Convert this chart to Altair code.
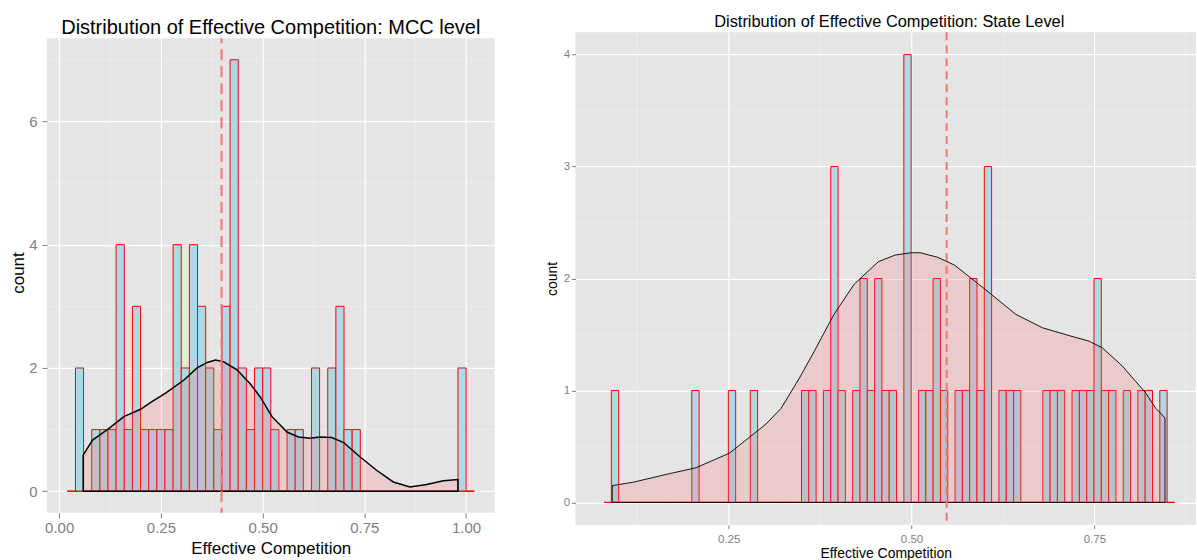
import altair as alt
import pandas as pd

# ---------------- MCC level panel ----------------
MCC_BIN_FIRST = 0.02          # left edge of first (empty) bin
MCC_BIN_WIDTH = 0.02
MCC_COUNTS = [0,
              2, 0, 1, 1, 1, 4, 1, 3, 1, 1,
              1, 1, 4, 2, 4, 3, 2, 1, 3, 7,
              2, 1, 2, 2, 1, 0, 1, 1, 0, 2,
              0, 2, 3, 1, 1,
              0, 0, 0, 0, 0, 0, 0, 0, 0, 0, 0, 0,
              2, 0]
MCC_DENS_X = [0.059, 0.082, 0.1225, 0.159, 0.20, 0.225, 0.2615, 0.306, 0.339, 0.364,
              0.384, 0.404, 0.437, 0.47, 0.494, 0.523, 0.56, 0.588, 0.617, 0.641,
              0.67, 0.699, 0.739, 0.78, 0.821, 0.862, 0.903, 0.944, 0.98]
MCC_DENS_Y = [0.585, 0.83, 1.02, 1.21, 1.33, 1.44, 1.59, 1.80, 2.0, 2.09,
              2.13, 2.10, 1.97, 1.74, 1.53, 1.21, 0.96, 0.88, 0.86, 0.88,
              0.87, 0.79, 0.56, 0.34, 0.15, 0.07, 0.11, 0.17, 0.19]
MCC_MEAN = 0.399
MCC_XTICKS = [0.0, 0.25, 0.5, 0.75, 1.0]
MCC_XMINOR = [0.125, 0.375, 0.625, 0.875]
MCC_YTICKS = [0, 2, 4, 6]
MCC_YMINOR = [1, 3, 5, 7]

# ---------------- State level panel ----------------
ST_BIN_FIRST = 0.0795
ST_BIN_WIDTH = 0.01
ST_COUNTS = [0,
             1, 0, 0, 0, 0, 0, 0, 0, 0, 0,
             0, 1, 0, 0, 0, 0, 1, 0, 0, 1,
             0, 0, 0, 0, 0, 0, 1, 1, 0, 1,
             3, 1, 0, 1, 2, 1, 2, 1, 1, 0,
             4, 0, 1, 1, 2, 1, 0, 1, 1, 2,
             1, 3, 0, 1, 1, 1, 0, 0, 0, 1,
             1, 1, 0, 1, 1, 1, 2, 1, 1, 0,
             1, 0, 1, 1, 0, 1, 0]
ST_DENS_X = [0.0907, 0.119, 0.1645, 0.2055, 0.251, 0.278, 0.301, 0.3216, 0.3466, 0.367,
             0.394, 0.4217, 0.4546, 0.4777, 0.50, 0.512, 0.5355, 0.5587, 0.582, 0.605,
             0.6426, 0.679, 0.7154, 0.743, 0.761, 0.788, 0.8066, 0.82, 0.834, 0.8466]
ST_DENS_Y = [0.15, 0.18, 0.25, 0.31, 0.44, 0.58, 0.70, 0.84, 1.11, 1.35,
             1.68, 1.95, 2.15, 2.21, 2.23, 2.23, 2.19, 2.12, 2.0, 1.88,
             1.68, 1.56, 1.49, 1.44, 1.38, 1.22, 1.08, 0.98, 0.84, 0.755]
ST_MEAN = 0.548
ST_XTICKS = [0.25, 0.5, 0.75]
ST_XMINOR = [0.125, 0.375, 0.625, 0.875]
ST_YTICKS = [0, 1, 2, 3, 4]
ST_YMINOR = [0.5, 1.5, 2.5, 3.5]

FONT = "Liberation Sans"


def panel(first, width_bin, counts, dx, dy, mean, xticks, xminor, yticks, yminor,
          xdom, ydom, panel_top, w, h, title, title_size, title_offset, title_dx,
          lab_size, axt_size, line_w, dash, tick_size,
          x_lab_pad, x_title_pad, y_lab_pad, y_title_pad):
    bins = pd.DataFrame({
        "start": [first + i * width_bin for i in range(len(counts))],
        "count": counts,
    })
    bins["end"] = bins["start"] + width_bin
    bins["base"] = 0.0
    dens = pd.DataFrame({"x": dx, "y": dy})
    dens["base"] = 0.0
    xs = alt.Scale(domain=xdom, nice=False, zero=False)
    ys = alt.Scale(domain=ydom, nice=False, zero=False)
    common = dict(grid=True, gridColor="white", gridWidth=1.2, domain=False,
                  tickColor="#7F7F7F", tickSize=tick_size, labelColor="#7F7F7F",
                  labelFontSize=lab_size, labelFont=FONT,
                  titleFont=FONT, titleFontSize=axt_size, titleFontWeight="normal",
                  titleColor="black", labelFlush=False)
    xax = alt.Axis(values=xticks, format=".2f", title="Effective Competition",
                   labelPadding=x_lab_pad, titlePadding=x_title_pad, **common)
    yax = alt.Axis(values=yticks, format="d", title="count",
                   labelPadding=y_lab_pad, titlePadding=y_title_pad, **common)

    vminor = alt.Chart(pd.DataFrame({"v": xminor})).mark_rule(
        color="#F2F2F2", strokeWidth=0.6).encode(
        x=alt.X("v:Q", scale=xs, axis=xax))
    hminor = alt.Chart(pd.DataFrame({"v": yminor})).mark_rule(
        color="#F2F2F2", strokeWidth=0.6).encode(
        y=alt.Y("v:Q", scale=ys, axis=yax))
    bars = alt.Chart(bins).mark_rect(
        fill="#ADD8E6", stroke="red", strokeWidth=1).encode(
        x=alt.X("start:Q", scale=xs, axis=xax), x2="end:Q",
        y=alt.Y("count:Q", scale=ys, axis=yax), y2="base:Q")
    baseline = alt.Chart(bins).mark_rule(color="red", strokeWidth=1).encode(
        x=alt.X("min(start):Q", scale=xs, axis=xax), x2="max(end):Q",
        y=alt.Y("min(base):Q", scale=ys, axis=yax))
    area = alt.Chart(dens).mark_area(
        fill="#FF6666", fillOpacity=0.2, stroke="black", strokeWidth=line_w,
        strokeOpacity=1).encode(
        x=alt.X("x:Q", scale=xs, axis=xax),
        y=alt.Y("y:Q", scale=ys, axis=yax), y2="base:Q")
    vline = alt.Chart(pd.DataFrame({"m": [mean]})).mark_rule(
        color="#F47575", strokeWidth=2, strokeDash=dash).encode(
        x=alt.X("m:Q", scale=xs, axis=xax))
    layers = [vminor, hminor, bars, baseline, area, vline]
    if panel_top < ydom[1]:
        # white strip above the grey panel (the plot area is taller than the panel)
        cover = alt.Chart(pd.DataFrame({"a": [panel_top], "b": [ydom[1]]})).mark_rect(
            color="white").encode(
            x=alt.datum(xdom[0], scale=xs), x2=alt.datum(xdom[1]),
            y=alt.Y("a:Q", scale=ys, axis=yax), y2="b:Q")
        layers.append(cover)
    return alt.layer(*layers).properties(
        width=w, height=h,
        title=alt.TitleParams(title, fontSize=title_size, fontWeight="normal",
                              font=FONT, color="black", anchor="middle",
                              frame="group", offset=title_offset, dx=title_dx))


# left plot area is 6 px taller than its grey panel so both plot tops line up
left = panel(MCC_BIN_FIRST, MCC_BIN_WIDTH, MCC_COUNTS, MCC_DENS_X, MCC_DENS_Y,
             MCC_MEAN, MCC_XTICKS, MCC_XMINOR, MCC_YTICKS, MCC_YMINOR,
             [-0.03, 1.07], [-0.35, 7.4473], 7.35, 448, 481,
             "Distribution of Effective Competition: MCC level", 20, -7, 0,
             15, 17, 1.5, [11, 6], 5, 3, 5, 5, 1)
right = panel(ST_BIN_FIRST, ST_BIN_WIDTH, ST_COUNTS, ST_DENS_X, ST_DENS_Y,
              ST_MEAN, ST_XTICKS, ST_XMINOR, ST_YTICKS, ST_YMINOR,
              [0.0405, 0.889], [-0.2, 4.2], 4.2, 621, 493,
              "Distribution of Effective Competition: State Level", 16.4, 1, 3.5,
              11.5, 14, 0.9, [8, 5], 4, 5, 1, 2, 3.5)

chart = alt.hconcat(left, right, spacing=50).properties(
    padding={"left": 9, "top": 13, "right": 0, "bottom": 0},
    background="white",
).configure_view(fill="#E5E5E5", stroke=None).configure_concat(spacing=50)

chart.save("out.html", embed_options={"renderer": "svg", "actions": False})
